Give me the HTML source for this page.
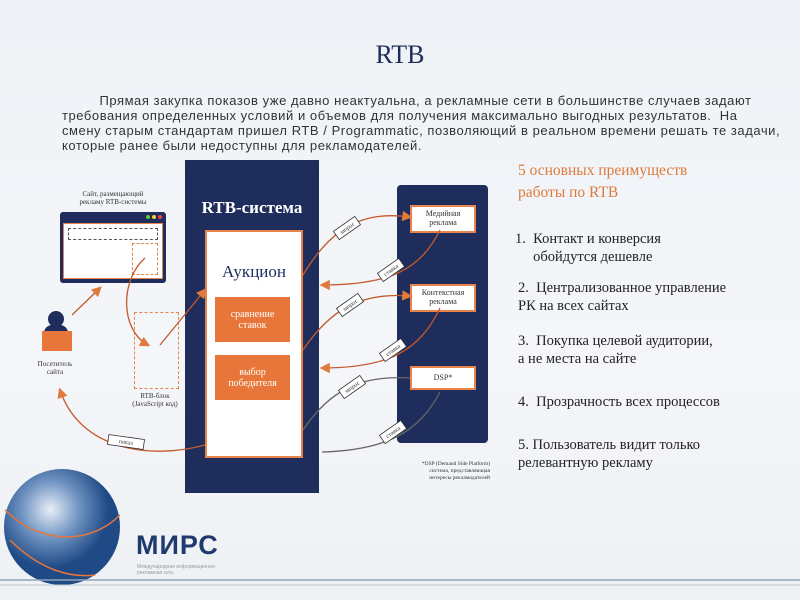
<!DOCTYPE html>
<html><head><meta charset="utf-8"><style>
body{margin:0;width:800px;height:600px;overflow:hidden;background:linear-gradient(180deg,#eef2f6,#f4f6f9 60%,#eef1f4);font-family:"Liberation Serif",serif;position:relative}
.a{position:absolute}
.s{font-family:"Liberation Sans",sans-serif}
.r{color:#e07a3c}
.t{font-size:14.5px;line-height:18px;color:#222}
</style></head><body>
<div class="a" style="left:0;top:40px;width:800px;text-align:center;font-size:26px;color:#1e2b57">RTB</div>
<div class="a s" style="left:62px;top:93px;white-space:nowrap;font-size:13px;line-height:15px;color:#333;letter-spacing:0.55px">&nbsp;&nbsp;&nbsp;&nbsp;&nbsp;&nbsp;&nbsp;&nbsp;&nbsp;Прямая закупка показов уже давно неактуальна, а рекламные сети в большинстве случаев задают<br>требования определенных условий и объемов для получения максимально выгодных результатов.&nbsp; На<br>смену старым стандартам пришел RTB / Programmatic, позволяющий в реальном времени решать те задачи,<br>которые ранее были недоступны для рекламодателей.</div>

<div class="a" style="left:185px;top:160px;width:134px;height:333px;background:#1f2d5c"></div>
<div class="a" style="left:185px;top:198px;width:134px;text-align:center;color:#fff;font-weight:bold;font-size:17px">RTB-система</div>
<div class="a" style="left:205px;top:230px;width:94px;height:224px;background:#fff;border:2px solid #e8834a"></div>
<div class="a" style="left:205px;top:262px;width:98px;text-align:center;color:#1f2d5c;font-size:17px">Аукцион</div>
<div class="a" style="left:215px;top:297px;width:75px;height:45px;background:#e8763a;color:#fff;font-size:10px;text-align:center;display:flex;align-items:center;justify-content:center">сравнение<br>ставок</div>
<div class="a" style="left:215px;top:355px;width:75px;height:45px;background:#e8763a;color:#fff;font-size:10px;text-align:center;display:flex;align-items:center;justify-content:center">выбор<br>победителя</div>

<div class="a" style="left:397px;top:185px;width:91px;height:258px;background:#1f2d5c;border-radius:4px"></div>
<div class="a" style="left:410px;top:205px;width:62px;height:22px;background:#fff;border:2px solid #e8834a;font-size:8px;text-align:center;line-height:9px;color:#333;padding-top:2px">Медийная<br>реклама</div>
<div class="a" style="left:410px;top:284px;width:62px;height:22px;background:#fff;border:2px solid #e8834a;font-size:8px;text-align:center;line-height:9px;color:#333;padding-top:2px">Контекстная<br>реклама</div>
<div class="a" style="left:410px;top:366px;width:62px;height:20px;background:#fff;border:2px solid #e8834a;font-size:8px;text-align:center;line-height:20px;color:#333">DSP*</div>
<div class="a" style="left:395px;top:461px;width:95px;font-size:5.5px;text-align:right;color:#333;line-height:7px">*DSP (Demand Side Platform)<br>система, представляющая<br>интересы рекламодателей</div>

<div class="a" style="left:60px;top:190px;width:106px;font-size:7px;text-align:center;color:#333;line-height:8px">Сайт, размещающий<br>рекламу RTB-системы</div>
<div class="a" style="left:60px;top:212px;width:106px;height:71px;background:#1f2d5c;border-radius:3px"></div>
<div class="a" style="left:146px;top:215px;width:4px;height:4px;border-radius:50%;background:#6c3"></div>
<div class="a" style="left:152px;top:215px;width:4px;height:4px;border-radius:50%;background:#fc3"></div>
<div class="a" style="left:158px;top:215px;width:4px;height:4px;border-radius:50%;background:#e44"></div>
<div class="a" style="left:63px;top:223px;width:98px;height:54px;background:#fff;border:1px solid #e8834a"></div>
<div class="a" style="left:68px;top:228px;width:88px;height:10px;border:1px dashed #555"></div>
<div class="a" style="left:132px;top:243px;width:24px;height:30px;border:1px dashed #e8834a"></div>
<div class="a" style="left:134px;top:312px;width:43px;height:75px;border:1px dashed #e8834a"></div>
<div class="a" style="left:120px;top:392px;width:70px;font-size:7px;text-align:center;color:#333;line-height:8px">RTB-блок<br>(JavaScript код)</div>
<div class="a" style="left:48px;top:311px;width:16px;height:16px;border-radius:50%;background:#1f2d5c"></div>
<div class="a" style="left:44px;top:325px;width:24px;height:8px;border-radius:8px 8px 0 0;background:#1f2d5c"></div>
<div class="a" style="left:42px;top:331px;width:30px;height:20px;background:#e8763a"></div>
<div class="a" style="left:25px;top:360px;width:60px;font-size:7px;text-align:center;color:#333;line-height:8px">Посетитель<br>сайта</div>

<svg class="a" style="left:0;top:0" width="800" height="600">
<defs><marker id="m" markerWidth="8" markerHeight="8" refX="6" refY="4" orient="auto"><path d="M0,0L8,4L0,8z" fill="#e07a3c"/></marker></defs>
<g fill="none" stroke="#c55a2a" stroke-width="1.3">
<path d="M72,315L100,288" marker-end="url(#m)"/>
<path d="M145,258C120,280 120,330 148,345" marker-end="url(#m)"/>
<path d="M160,345L205,290" marker-end="url(#m)"/>
<path d="M303,275C330,230 360,210 410,217" marker-end="url(#m)"/>
<path d="M440,230C420,270 390,285 322,285" marker-end="url(#m)"/>
<path d="M303,350C330,310 360,292 410,296" marker-end="url(#m)"/>
<path d="M440,308C420,350 390,368 322,368" marker-end="url(#m)"/>
<path d="M205,445C150,460 80,450 60,390" marker-end="url(#m)"/>
</g>
<g fill="none" stroke="#666" stroke-width="1.3">
<path d="M303,430C330,390 360,375 410,378"/><path d="M440,392C420,430 390,450 322,452"/>
</g>
<g font-size="6" font-family="Liberation Serif" fill="#333">
<g transform="translate(347,228) rotate(-35)"><rect x="-13" y="-5" width="26" height="10" fill="#fff" stroke="#333" stroke-width=".8"/><text text-anchor="middle" y="2">запрос</text></g>
<g transform="translate(391,270) rotate(-35)"><rect x="-13" y="-5" width="26" height="10" fill="#fff" stroke="#333" stroke-width=".8"/><text text-anchor="middle" y="2">ставка</text></g>
<g transform="translate(350,305) rotate(-35)"><rect x="-13" y="-5" width="26" height="10" fill="#fff" stroke="#333" stroke-width=".8"/><text text-anchor="middle" y="2">запрос</text></g>
<g transform="translate(393,350) rotate(-35)"><rect x="-13" y="-5" width="26" height="10" fill="#fff" stroke="#333" stroke-width=".8"/><text text-anchor="middle" y="2">ставка</text></g>
<g transform="translate(352,387) rotate(-35)"><rect x="-13" y="-5" width="26" height="10" fill="#fff" stroke="#333" stroke-width=".8"/><text text-anchor="middle" y="2">запрос</text></g>
<g transform="translate(393,432) rotate(-35)"><rect x="-13" y="-5" width="26" height="10" fill="#fff" stroke="#333" stroke-width=".8"/><text text-anchor="middle" y="2">ставка</text></g>
<g transform="translate(126,442) rotate(8)"><rect x="-18" y="-5" width="36" height="10" fill="#fff" stroke="#333" stroke-width=".8"/><text text-anchor="middle" y="2">показ</text></g>
</g>
<defs><radialGradient id="g" cx="40%" cy="35%"><stop offset="0" stop-color="#e8eef6"/><stop offset=".5" stop-color="#6f93c2"/><stop offset="1" stop-color="#1f4a86"/></radialGradient></defs>
<circle cx="62" cy="527" r="58" fill="url(#g)"/>
<path d="M5,510C40,545 90,545 120,515" stroke="#e8763a" fill="none" stroke-width="1.5"/>
<path d="M10,540C40,570 70,578 95,575" stroke="#e8763a" fill="none" stroke-width="1.5"/>
<line x1="0" y1="580" x2="800" y2="580" stroke="#8fa3b8" stroke-width="1.5"/>
<line x1="0" y1="585" x2="800" y2="585" stroke="#b9c5d2" stroke-width="1"/>
</svg>
<div class="a s" style="left:136px;top:530px;font-size:27px;font-weight:bold;color:#1f3a6e;letter-spacing:1px">МИРС</div>
<div class="a s" style="left:137px;top:564px;font-size:5px;color:#999;line-height:6px">Международная информационно-<br>рекламная сеть</div>

<div class="a r" style="left:518px;top:160px;font-size:15.5px;line-height:22px">5 основных преимуществ<br>работы по RTB</div>
<div class="a t" style="left:515px;top:230px">1.&nbsp;&nbsp;Контакт и конверсия<br>&nbsp;&nbsp;&nbsp;&nbsp;&nbsp;обойдутся дешевле</div>
<div class="a t" style="left:518px;top:279px">2.&nbsp;&nbsp;Централизованное управление<br>РК на всех сайтах</div>
<div class="a t" style="left:518px;top:332px">3.&nbsp;&nbsp;Покупка целевой аудитории,<br>а не места на сайте</div>
<div class="a t" style="left:518px;top:393px">4.&nbsp;&nbsp;Прозрачность всех процессов</div>
<div class="a t" style="left:518px;top:436px">5. Пользователь видит только<br>релевантную рекламу</div>
</body></html>
